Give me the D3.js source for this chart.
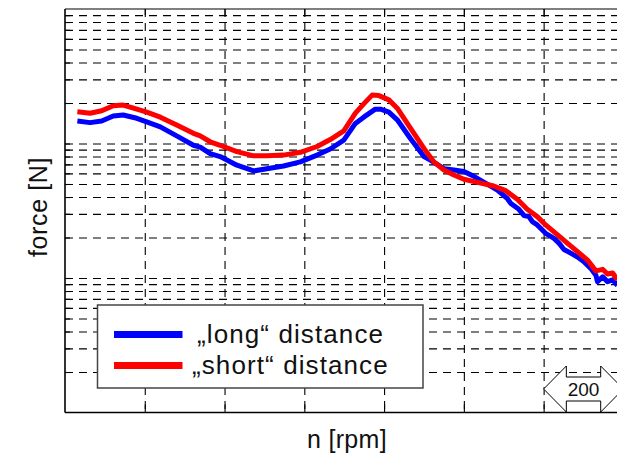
<!DOCTYPE html>
<html>
<head>
<meta charset="utf-8">
<script src="https://cdn.jsdelivr.net/npm/d3@7"></script>
<style>
  body { margin: 0; background: #fff; }
  text { font-family: "Liberation Sans", Arial, sans-serif; }
</style>
</head>
<body>
<svg id="chart" width="617" height="454"></svg>
<script>
// values (rpm, force in N)
var rpmLong = [31, 63, 92, 121, 146, 180, 205, 239, 280, 322, 339, 364, 389, 431, 473, 506, 548, 590, 632, 665,
  699, 728, 749, 778, 791, 812, 833, 866, 900, 917, 950, 975, 1000, 1025, 1063, 1084, 1109, 1117, 1138, 1151,
  1163, 1172, 1184, 1205, 1226, 1239, 1251, 1268, 1285, 1301, 1318, 1331, 1335, 1348, 1360, 1373, 1385];
var forceLong = [147, 143, 147, 160, 163, 154, 145, 133, 114, 97, 94, 84, 80, 69, 62.5, 65, 68, 73, 82, 91,
  106, 141, 157, 180, 180, 171, 150, 109, 80, 75, 65, 63.5, 62, 57, 49, 45, 39, 36, 32.4, 29.1,
  28.6, 26.2, 24.8, 21.5, 19.7, 18.1, 16.3, 15.3, 14.3, 13.2, 11.8, 10.5, 9.4, 10.2, 9.4, 9.7, 8.8];

var rpmShort = [31, 63, 92, 121, 146, 180, 205, 239, 280, 322, 339, 364, 389, 431, 473, 506, 548, 590, 632, 665,
  699, 728, 749, 770, 787, 812, 833, 866, 900, 925, 950, 975, 1000, 1034, 1075, 1105, 1134, 1159, 1184, 1205,
  1235, 1260, 1285, 1310, 1331, 1348, 1360, 1373, 1385];
var forceShort = [172, 168, 175, 191, 193, 180, 171, 157, 137, 119, 114, 103, 97, 87, 81, 81, 82, 86, 95, 107,
  124, 168, 197, 229, 227, 211, 183, 130, 92, 73, 63.5, 58.3, 54.2, 51.4, 48.3, 44.6, 38.5, 32.4, 28.6, 24.8,
  20.9, 18.1, 15.7, 13.6, 11.3, 11.6, 10.7, 10.9, 9.7];

var xTicks = [0, 200, 400, 600, 800, 1000, 1200, 1400];
var seriesNames = ["\u201Elong\u201C distance", "\u201Eshort\u201C distance"];
var seriesColors = ["#0000ff", "#ff0000"];
var spanFrom = 1200, spanTo = 1400;

function toPoints(rpm, force){
  let res = [];
  for(let i = 0; i < rpm.length; i++){
    res.push({rpm: rpm[i], f: force[i]});
  }
  return res;
}

var svg = d3.select('#chart');
var loc = {x: 65, y: 9, w: 558.4, h: 403.5};

var xScale = d3.scaleLinear()
  .domain([xTicks[0], xTicks[xTicks.length - 1]])
  .range([loc.x, loc.x + loc.w]);
var yScale = d3.scaleLog()
  .domain([1, 1000])
  .range([loc.y + loc.h, loc.y]);

var yGrid = yScale.ticks().filter(v => v > 1 && v < 1000);
var xGrid = xTicks.slice(1, xTicks.length - 1);

//dashed grid
var gy = svg.append('g')
  .attr('transform', 'translate(' + loc.x + ',0)')
  .call(d3.axisLeft(yScale).tickValues(yGrid).tickSize(-loc.w).tickFormat(''));
var gx = svg.append('g')
  .attr('transform', 'translate(0,' + loc.y + ')')
  .call(d3.axisBottom(xScale).tickValues(xGrid).tickSize(loc.h).tickFormat(''));
[gy, gx].forEach(g => {
  g.select('.domain').remove();
  g.selectAll('line')
    .attr('stroke', '#000')
    .attr('stroke-width', 1.1)
    .attr('stroke-dasharray', '8,6');
});

//small solid ticks on the frame
var tl = svg.append('g')
  .attr('transform', 'translate(' + loc.x + ',0)')
  .call(d3.axisLeft(yScale).tickValues(yGrid).tickSize(-5).tickFormat(''));
var tb = svg.append('g')
  .attr('transform', 'translate(0,' + (loc.y + loc.h) + ')')
  .call(d3.axisBottom(xScale).tickValues(xGrid).tickSize(-8).tickFormat(''));
var tt = svg.append('g')
  .attr('transform', 'translate(0,' + loc.y + ')')
  .call(d3.axisTop(xScale).tickValues(xGrid).tickSize(-6).tickFormat(''));
[tl, tb, tt].forEach(g => {
  g.select('.domain').remove();
  g.selectAll('line').attr('stroke', '#000').attr('stroke-width', 1.1);
});

//frame
svg.append('line')
  .attr('x1', loc.x).attr('x2', loc.x + loc.w)
  .attr('y1', loc.y).attr('y2', loc.y)
  .attr('stroke', '#000').attr('stroke-width', 1.2);
svg.append('line')
  .attr('x1', loc.x).attr('x2', loc.x + loc.w)
  .attr('y1', loc.y + loc.h).attr('y2', loc.y + loc.h)
  .attr('stroke', '#000').attr('stroke-width', 1.6);
svg.append('line')
  .attr('x1', loc.x).attr('x2', loc.x)
  .attr('y1', loc.y).attr('y2', loc.y + loc.h)
  .attr('stroke', '#000').attr('stroke-width', 1.6);

//curves
var line = d3.line()
  .x(d => xScale(d.rpm))
  .y(d => yScale(d.f));
var series = [toPoints(rpmLong, forceLong), toPoints(rpmShort, forceShort)];
for(var i in series){
  svg.append('path')
    .datum(series[i])
    .attr('d', line)
    .attr('fill', 'none')
    .attr('stroke', seriesColors[i])
    .attr('stroke-width', 5)
    .attr('stroke-linejoin', 'round');
}

//legend
var lg = svg.append('g');
lg.append('rect')
  .attr('x', 97.5).attr('y', 305)
  .attr('width', 325.5).attr('height', 83)
  .attr('fill', '#fff')
  .attr('stroke', '#444')
  .attr('stroke-width', 1.5);
var rowY = [334.5, 365.5];
for(var i in seriesNames){
  lg.append('line')
    .attr('x1', 114).attr('x2', 182.5)
    .attr('y1', rowY[i]).attr('y2', rowY[i])
    .attr('stroke', seriesColors[i])
    .attr('stroke-width', 7);
  lg.append('text')
    .attr('x', i == 0 ? 197 : 192)
    .attr('y', rowY[i] + 8)
    .attr('font-size', 26)
    .attr('letter-spacing', 1.1)
    .attr('fill', '#111')
    .text(seriesNames[i]);
}

//axis titles
svg.append('text')
  .attr('x', 347).attr('y', 448)
  .attr('text-anchor', 'middle')
  .attr('font-size', 25)
  .attr('letter-spacing', 0.3)
  .attr('fill', '#111')
  .text('n [rpm]');
svg.append('text')
  .attr('transform', 'translate(47,207) rotate(-90)')
  .attr('text-anchor', 'middle')
  .attr('font-size', 25)
  .attr('letter-spacing', 0.6)
  .attr('fill', '#111')
  .text('force [N]');

//200 rpm span arrow
var a0 = xScale(spanFrom), a1 = xScale(spanTo), ay = 389;
var hl = 22.7, hh = 23, sh = 12;
var pts = [
  [a0, ay], [a0 + hl, ay - hh], [a0 + hl, ay - sh], [a1 - hl, ay - sh], [a1 - hl, ay - hh],
  [a1, ay], [a1 - hl, ay + hh], [a1 - hl, ay + sh], [a0 + hl, ay + sh], [a0 + hl, ay + hh]
];
svg.append('polygon')
  .attr('points', pts.map(p => p.join(',')).join(' '))
  .attr('fill', '#fff')
  .attr('stroke', '#000')
  .attr('stroke-width', 1);
svg.append('text')
  .attr('x', (a0 + a1) / 2).attr('y', ay + 7)
  .attr('text-anchor', 'middle')
  .attr('font-size', 19)
  .attr('fill', '#111')
  .text(spanTo - spanFrom);
</script>
</body>
</html>
